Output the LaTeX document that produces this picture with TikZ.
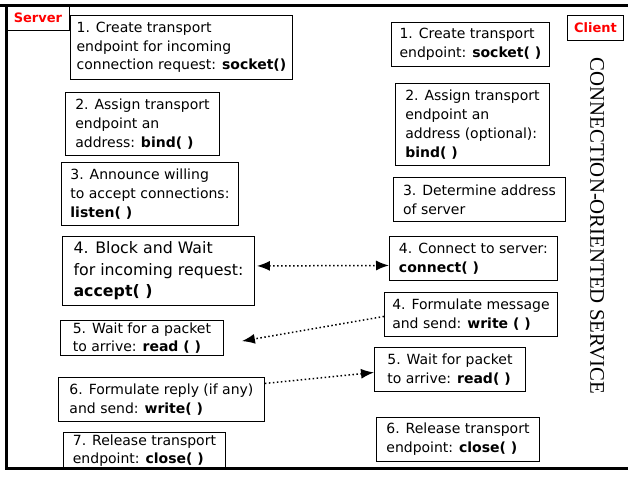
\documentclass[tikz,border=0pt]{standalone}
\usepackage{fontspec}
\usetikzlibrary{arrows.meta}
\setmainfont{DejaVu Sans}
\newfontfamily\serviceFont{Liberation Serif}

\begin{document}
\begin{tikzpicture}[x=1pt,y=-1pt,
    stepbox/.style={draw, line width=0.9pt, align=left, anchor=north west,
        inner xsep=6pt, inner ysep=2pt, font=\fontsize{14}{18.8}\selectfont},
    bigbox/.style={stepbox, font=\fontsize{15.8}{21.5}\selectfont},
    tag/.style={draw, line width=0.9pt, anchor=north west, text=red,
        inner sep=0pt, font=\fontsize{13}{15}\selectfont\bfseries},
    msg/.style={line width=1.5pt, dash pattern=on 1.5pt off 2.5pt,
        -{Latex[length=13pt,width=10pt]}},
    twoway/.style={msg, {Latex[length=13pt,width=10pt]}-{Latex[length=13pt,width=10pt]}}]
    \useasboundingbox (0,0) rectangle (628,477);

    % frame
    \draw[line width=3pt] (0,5) -- (628,5);
    \draw[line width=3pt] (6,5) -- (6,468) -- (628,468);

    \node[tag, minimum width=63pt, minimum height=25pt] (server) at (6,5) {Server};
    \node[tag, minimum width=56pt, minimum height=25pt] (client) at (567,15) {Client};

    % server side
    \node[stepbox, minimum width=222pt, minimum height=64pt] (s1) at (70,15)
        {1. Create transport\\endpoint for incoming\\connection request: \textbf{socket()}};
    \node[stepbox, minimum width=154pt, minimum height=63pt] (s2) at (65,92)
        {2. Assign transport\\endpoint an\\address: \textbf{bind( )}};
    \node[stepbox, minimum width=177pt, minimum height=63pt] (s3) at (61,162)
        {3. Announce willing\\to accept connections:\\\textbf{listen( )}};
    \node[bigbox, minimum width=192pt, minimum height=69pt] (s4) at (62,236)
        {4. Block and Wait\\for incoming request:\\\textbf{accept( )}};
    \node[stepbox, minimum width=163pt, minimum height=35pt] (s5) at (60,320)
        {5. Wait for a packet\\to arrive: \textbf{read ( )}};
    \node[stepbox, minimum width=206pt, minimum height=44pt] (s6) at (58,377)
        {6. Formulate reply (if any)\\and send: \textbf{write( )}};
    \node[stepbox, minimum width=162pt, minimum height=36pt] (s7) at (63,432)
        {7. Release transport\\endpoint: \textbf{close( )}};

    % client side
    \node[stepbox, minimum width=158pt, minimum height=44pt] (c1) at (391,22)
        {1. Create transport\\endpoint: \textbf{socket( )}};
    \node[stepbox, minimum width=154pt, minimum height=82pt] (c2) at (395,83)
        {2. Assign transport\\endpoint an\\address (optional):\\ \textbf{bind( )}};
    \node[stepbox, minimum width=172pt, minimum height=44pt] (c3) at (393,177)
        {3. Determine address\\of server};
    \node[stepbox, minimum width=168pt, minimum height=44pt] (c4) at (389,236)
        {4. Connect to server:\\\textbf{connect( )}};
    \node[stepbox, minimum width=173pt, minimum height=44pt] (c5) at (384,292)
        {4. Formulate message\\and send: \textbf{write ( )}};
    \node[stepbox, minimum width=151pt, minimum height=44pt] (c6) at (374,347)
        {5. Wait for packet\\to arrive: \textbf{read( )}};
    \node[stepbox, minimum width=163pt, minimum height=44pt] (c7) at (376,417)
        {6. Release transport\\endpoint: \textbf{close( )}};

    \node[rotate=-90, font=\serviceFont\fontsize{20.8}{22}\selectfont] (title) at (597,226)
        {CONNECTION-ORIENTED SERVICE};

    % messages
    \draw[twoway, shorten <=2pt] ([yshift=5pt]s4.east) -- ([yshift=-7pt]c4.west);
    \draw[msg] ([yshift=-2pt]c5.west) -- ([xshift=18pt,yshift=-3pt]s5.east);
    \draw[msg] ([yshift=16pt]s6.east) -- ([yshift=-3pt]c6.west);
\end{tikzpicture}
\end{document}
